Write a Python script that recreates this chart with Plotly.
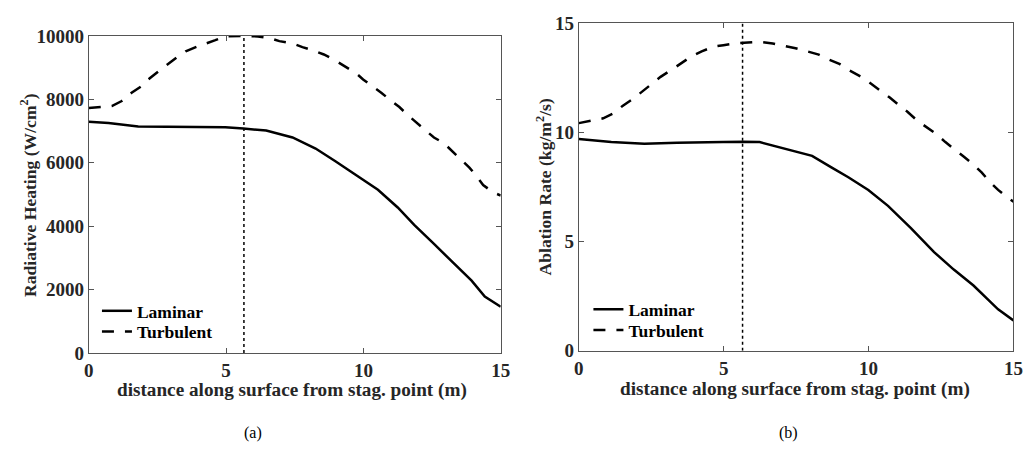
import plotly.graph_objects as go

W, H = 1035, 470

# ---- data ----
x_lam_a = [0, 0.72, 1.8, 2.99, 4.97, 5.63, 6.46, 7.42, 8.26, 8.98, 9.99, 10.53, 11.25, 11.85, 12.57, 13.40, 13.94, 14.42, 15]
y_lam_a = [7300, 7260, 7150, 7140, 7120, 7080, 7020, 6800, 6450, 6050, 5450, 5150, 4590, 4040, 3440, 2730, 2280, 1780, 1460]

x_turb_a = [0, 0.84, 1.2, 1.56, 1.91, 2.21, 2.57, 2.87, 3.23, 3.53, 3.95, 4.61, 4.97, 5.6, 6.16, 6.58, 6.94,
            7.42, 7.78, 8.2, 8.56, 8.98, 9.28, 9.76, 9.99, 10.35, 10.65, 11.01, 11.31, 11.61, 11.95, 12.27,
            12.57, 12.93, 13.23, 13.55, 13.86, 14.12, 14.36, 14.72, 15]
y_turb_a = [7730, 7790, 7950, 8210, 8410, 8660, 8910, 9110, 9340, 9520, 9670, 9870, 9990, 10000, 9990, 9940, 9840,
            9770, 9650, 9540, 9420, 9230, 9070, 8810, 8630, 8410, 8210, 7960, 7760, 7510, 7260, 7020,
            6800, 6620, 6370, 6120, 5850, 5580, 5300, 5070, 4970]

x_lam_b = [0, 1.12, 2.26, 3.39, 4.98, 5.67, 6.24, 7.14, 8.05, 8.73, 9.30, 9.99, 10.67, 11.46, 12.26, 12.94, 13.62, 14.07, 14.47, 15]
y_lam_b = [9.70, 9.56, 9.48, 9.53, 9.56, 9.58, 9.56, 9.26, 8.93, 8.39, 7.95, 7.37, 6.64, 5.62, 4.52, 3.72, 2.99, 2.41, 1.90, 1.39]

x_turb_b = [0, 0.84, 1.18, 1.52, 1.86, 2.2, 2.54, 2.82, 3.16, 3.56, 3.9, 4.24, 4.64, 4.99, 5.39, 5.84, 6.24, 6.69,
            7.09, 7.48, 7.88, 8.28, 8.62, 9.01, 9.35, 9.75, 9.99, 10.44, 10.73, 11.07, 11.35, 11.69, 12.01, 12.35,
            12.65, 12.99, 13.28, 13.62, 13.90, 14.19, 14.47, 14.81, 15]
y_turb_b = [10.43, 10.65, 10.87, 11.23, 11.53, 11.89, 12.25, 12.55, 12.84, 13.20, 13.50, 13.72, 13.93, 14.0, 14.08, 14.12, 14.15, 14.08,
            13.98, 13.86, 13.72, 13.57, 13.35, 13.13, 12.84, 12.55, 12.33, 11.89, 11.60, 11.23, 10.94, 10.53, 10.24, 9.92,
            9.56, 9.22, 8.90, 8.53, 8.17, 7.73, 7.37, 7.0, 6.83]

x_marker = 5.65
y_range_a = [0, 10000]
y_range_b = [0, 15]
x_range = [0, 15]

series_names = ["Laminar", "Turbulent"]
x_title = "distance along surface from stag. point (m)"
y_title_a = "Radiative Heating (W/cm<sup>2</sup>)"
y_title_b = "Ablation Rate (kg/m<sup>2</sup>/s)"
captions = ["(a)", "(b)"]

# ---- styling ----
FONT = "Liberation Serif, Times New Roman, Times, serif"
TXT = "#262626"
AX = "#555555"
FS_TICK = 19
FS_XT = 19.2
FS_YT = 17.6
FS_LEG = 17.5


def px(v):
    return v / W


def py(v):
    return 1 - v / H


def bold(s):
    return "<b>" + s + "</b>"


fig = go.Figure()

dash_turb = "12px,11px"

# panel a
fig.add_trace(go.Scatter(x=x_lam_a, y=y_lam_a, mode="lines", name=bold(series_names[0]),
                         line=dict(color="black", width=2.5), xaxis="x", yaxis="y", legend="legend"))
fig.add_trace(go.Scatter(x=x_turb_a, y=y_turb_a, mode="lines", name=bold(series_names[1]),
                         line=dict(color="black", width=2.5, dash=dash_turb), xaxis="x", yaxis="y", legend="legend3"))
fig.add_trace(go.Scatter(x=[x_marker, x_marker], y=y_range_a, mode="lines", showlegend=False,
                         line=dict(color="black", width=1.5, dash="dot"), xaxis="x", yaxis="y"))
# panel b
fig.add_trace(go.Scatter(x=x_lam_b, y=y_lam_b, mode="lines", name=bold(series_names[0]),
                         line=dict(color="black", width=2.5), xaxis="x2", yaxis="y2", legend="legend2"))
fig.add_trace(go.Scatter(x=x_turb_b, y=y_turb_b, mode="lines", name=bold(series_names[1]),
                         line=dict(color="black", width=2.5, dash=dash_turb), xaxis="x2", yaxis="y2", legend="legend4"))
fig.add_trace(go.Scatter(x=[x_marker, x_marker], y=y_range_b, mode="lines", showlegend=False,
                         line=dict(color="black", width=1.5, dash="dot"), xaxis="x2", yaxis="y2"))

tickfont = dict(family=FONT, size=FS_TICK, color=TXT, weight="bold")
axis_common = dict(showline=True, linecolor=AX, linewidth=1, mirror="ticks", ticks="inside",
                   ticklen=5, tickcolor=AX, tickwidth=1, showgrid=False, zeroline=False,
                   tickfont=tickfont, tickformat="d")


def leg(x, y):
    return dict(x=px(x), y=py(y), xanchor="left", yanchor="middle", bgcolor="rgba(0,0,0,0)",
                font=dict(family=FONT, size=FS_LEG, color="black"), itemwidth=30, tracegroupgap=0)


fig.update_layout(
    width=W, height=H,
    margin=dict(l=0, r=0, t=0, b=0),
    paper_bgcolor="white", plot_bgcolor="white",
    font=dict(family=FONT, size=FS_TICK, color=TXT),
    xaxis=dict(domain=[px(85), px(503)], range=x_range, dtick=5, anchor="y", **axis_common),
    yaxis=dict(domain=[py(359), py(27.3)], range=y_range_a, dtick=2000, anchor="x", **axis_common),
    xaxis2=dict(domain=[px(582.3), px(1023.3)], range=x_range, dtick=5, anchor="y2", **axis_common),
    yaxis2=dict(domain=[py(356.7), py(14)], range=y_range_b, dtick=5, anchor="x2", **axis_common),
    legend=leg(93.3, 315),
    legend3=leg(93.3, 336.7),
    legend2=leg(592, 313.3),
    legend4=leg(592, 335),
    showlegend=True,
)

xt_font = dict(family=FONT, size=FS_XT, color=TXT)
yt_font = dict(family=FONT, size=FS_YT, color=TXT)
ann = []
ann.append(dict(text=bold(x_title), x=px(291.7), y=py(398), xref="paper", yref="paper", showarrow=False,
                font=xt_font, xanchor="center", yanchor="middle"))
ann.append(dict(text=bold(x_title), x=px(801.7), y=py(397), xref="paper", yref="paper", showarrow=False,
                font=xt_font, xanchor="center", yanchor="middle"))
ann.append(dict(text=bold(y_title_a), x=px(23.5), y=py(193.5), xref="paper", yref="paper", showarrow=False, textangle=-90,
                font=yt_font, xanchor="center", yanchor="middle"))
ann.append(dict(text=bold(y_title_b), x=px(547), y=py(185.7), xref="paper", yref="paper", showarrow=False, textangle=-90,
                font=yt_font, xanchor="center", yanchor="middle"))
cfont = dict(family=FONT, size=16, color="black")
ann.append(dict(text=captions[0], x=px(252), y=py(443), xref="paper", yref="paper", showarrow=False,
                font=cfont, xanchor="center", yanchor="middle"))
ann.append(dict(text=captions[1], x=px(795), y=py(443), xref="paper", yref="paper", showarrow=False,
                font=cfont, xanchor="center", yanchor="middle"))
fig.update_layout(annotations=ann)

fig.write_html("out.html")
